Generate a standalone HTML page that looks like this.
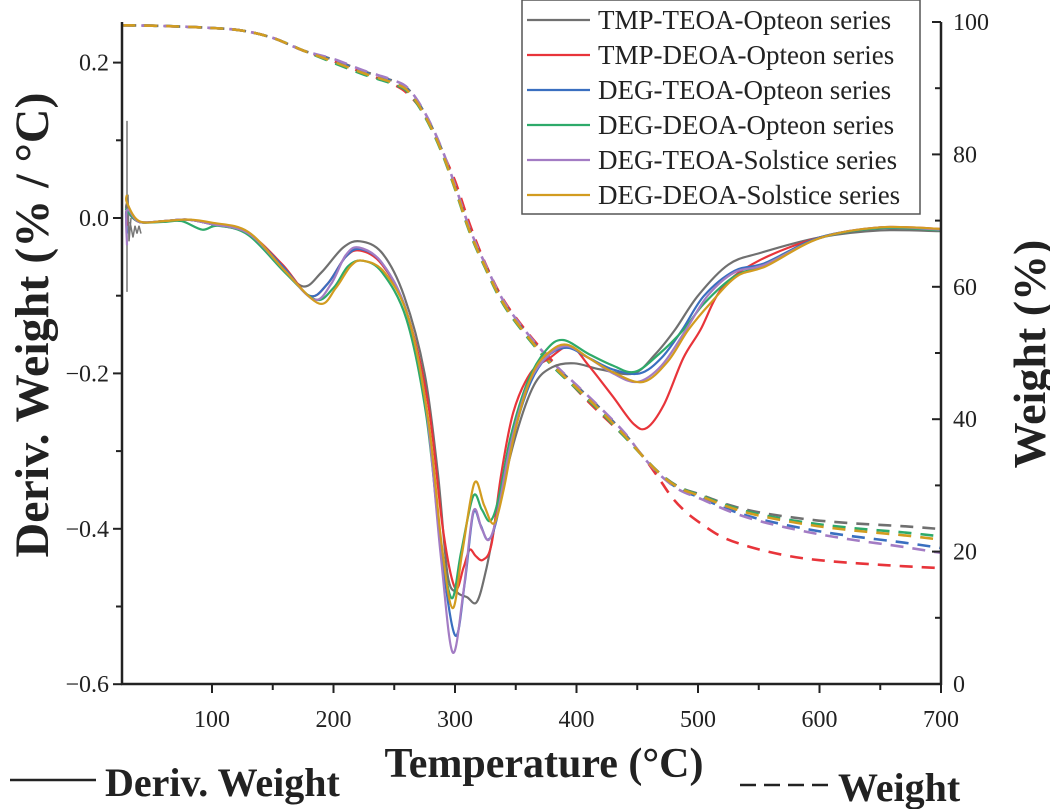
<!DOCTYPE html>
<html><head><meta charset="utf-8"><style>
html,body{margin:0;padding:0;background:#fff;}
svg{display:block;font-family:"Liberation Serif",serif;}
</style></head><body>
<svg id="s" width="1050" height="809" viewBox="0 0 1050 809" xmlns="http://www.w3.org/2000/svg">
<g id="curves"></g>
<g stroke="#222" stroke-width="2.5" fill="none">
<line x1="122" y1="22" x2="122" y2="685"/>
<line x1="121" y1="684" x2="942" y2="684"/>
<line x1="941" y1="22" x2="941" y2="685"/>
</g>
<g id="ticks" stroke="#222" stroke-width="2"></g>
<g id="labels" font-size="24" fill="#222"></g>
<text x="0" y="0" transform="translate(48,325) rotate(-90)" text-anchor="middle" font-size="48" font-weight="bold" fill="#222">Deriv. Weight (% / °C)</text>
<text x="0" y="0" transform="translate(1045,354) rotate(-90)" text-anchor="middle" font-size="46" font-weight="bold" fill="#222">Weight (%)</text>
<text x="544" y="777" text-anchor="middle" font-size="42" font-weight="bold" fill="#222">Temperature (°C)</text>
<line x1="10" y1="780" x2="96" y2="780" stroke="#222" stroke-width="2.5"/>
<text x="105" y="796" font-size="40" font-weight="bold" fill="#222">Deriv. Weight</text>
<line x1="740" y1="785" x2="828" y2="785" stroke="#222" stroke-width="2.5" stroke-dasharray="16,8"/>
<text x="838" y="801" font-size="40" font-weight="bold" fill="#222">Weight</text>
<rect x="522" y="0" width="398" height="214" fill="#fff" stroke="#555" stroke-width="1.5"/>
<g id="legend" font-size="27" fill="#222"></g>
</svg>
<script>
var NS="http://www.w3.org/2000/svg";
function X(t){return 212+(t-100)*1.215;}
function YL(v){return 218-v*777;}
function YR(w){return 684-w*6.62;}
function el(p,tag,a,txt){var e=document.createElementNS(NS,tag);for(var k in a)e.setAttribute(k,a[k]);if(txt)e.textContent=txt;p.appendChild(e);return e;}
function path(pts){var d="M"+pts[0][0].toFixed(1)+","+pts[0][1].toFixed(1);
for(var i=0;i<pts.length-1;i++){var p0=pts[Math.max(0,i-1)],p1=pts[i],p2=pts[i+1],p3=pts[Math.min(pts.length-1,i+2)];
var c1=[p1[0]+(p2[0]-p0[0])/6,p1[1]+(p2[1]-p0[1])/6],c2=[p2[0]-(p3[0]-p1[0])/6,p2[1]-(p3[1]-p1[1])/6];
d+="C"+c1[0].toFixed(1)+","+c1[1].toFixed(1)+" "+c2[0].toFixed(1)+","+c2[1].toFixed(1)+" "+p2[0].toFixed(1)+","+p2[1].toFixed(1);}return d;}
var C=["#707070","#e8343a","#3a6fc0","#2eaa6a","#a37cc4","#d29c20"];
var names=["TMP-TEOA-Opteon series","TMP-DEOA-Opteon series","DEG-TEOA-Opteon series","DEG-DEOA-Opteon series","DEG-TEOA-Solstice series","DEG-DEOA-Solstice series"];
var D=[
[[30,0.01],[40,-0.005],[60,-0.004],[80,-0.002],[100,-0.008],[130,-0.02],[155,-0.06],[175,-0.088],[190,-0.07],[208,-0.038],[222,-0.03],[240,-0.045],[258,-0.1],[275,-0.2],[286,-0.33],[294,-0.46],[302,-0.482],[310,-0.488],[318,-0.494],[326,-0.45],[336,-0.37],[350,-0.28],[365,-0.215],[380,-0.192],[398,-0.187],[420,-0.195],[447,-0.2],[465,-0.175],[481,-0.144],[500,-0.1],[525,-0.06],[551,-0.045],[600,-0.025],[650,-0.016],[700,-0.017]],
[[30,0.01],[40,-0.005],[60,-0.004],[80,-0.002],[100,-0.008],[130,-0.02],[158,-0.06],[180,-0.1],[195,-0.085],[210,-0.05],[222,-0.042],[240,-0.06],[260,-0.12],[278,-0.24],[290,-0.4],[300,-0.476],[307,-0.45],[312,-0.427],[317,-0.435],[323,-0.44],[330,-0.42],[338,-0.33],[348,-0.25],[362,-0.2],[378,-0.18],[395,-0.165],[410,-0.19],[430,-0.23],[447,-0.265],[458,-0.27],[472,-0.24],[488,-0.18],[502,-0.144],[520,-0.09],[550,-0.055],[600,-0.025],[650,-0.012],[700,-0.014]],
[[30,0.01],[40,-0.005],[60,-0.004],[80,-0.002],[100,-0.008],[130,-0.02],[158,-0.062],[180,-0.1],[195,-0.085],[210,-0.05],[222,-0.04],[240,-0.058],[260,-0.12],[276,-0.24],[288,-0.42],[300,-0.537],[308,-0.47],[315,-0.38],[321,-0.395],[327,-0.414],[334,-0.39],[345,-0.3],[360,-0.22],[375,-0.18],[392,-0.167],[410,-0.18],[430,-0.195],[452,-0.2],[470,-0.18],[487,-0.144],[505,-0.1],[530,-0.068],[555,-0.058],[600,-0.025],[650,-0.013],[700,-0.015]],
[[30,0.01],[40,-0.005],[60,-0.005],[75,-0.004],[92,-0.015],[105,-0.01],[130,-0.022],[160,-0.07],[185,-0.105],[200,-0.09],[212,-0.062],[224,-0.055],[240,-0.07],[260,-0.13],[276,-0.25],[287,-0.4],[297,-0.489],[305,-0.43],[315,-0.358],[322,-0.375],[329,-0.39],[336,-0.36],[346,-0.28],[360,-0.21],[375,-0.17],[389,-0.157],[410,-0.175],[430,-0.19],[448,-0.198],[468,-0.175],[488,-0.144],[505,-0.11],[530,-0.075],[555,-0.06],[600,-0.026],[650,-0.013],[700,-0.016]],
[[30,0.01],[40,-0.005],[60,-0.004],[80,-0.002],[100,-0.008],[130,-0.02],[160,-0.068],[184,-0.105],[198,-0.085],[210,-0.048],[221,-0.038],[240,-0.058],[260,-0.12],[276,-0.24],[288,-0.43],[298,-0.559],[307,-0.48],[315,-0.378],[322,-0.4],[328,-0.414],[335,-0.38],[346,-0.29],[360,-0.215],[376,-0.178],[392,-0.165],[410,-0.18],[430,-0.2],[450,-0.211],[470,-0.19],[490,-0.144],[508,-0.1],[530,-0.07],[555,-0.06],[600,-0.026],[650,-0.012],[700,-0.015]],
[[30,0.02],[40,-0.004],[60,-0.004],[80,-0.002],[100,-0.006],[130,-0.018],[160,-0.068],[188,-0.11],[202,-0.09],[214,-0.062],[224,-0.055],[242,-0.07],[262,-0.13],[278,-0.26],[289,-0.42],[298,-0.502],[306,-0.43],[316,-0.341],[324,-0.37],[332,-0.393],[340,-0.35],[350,-0.27],[364,-0.2],[378,-0.172],[392,-0.163],[410,-0.18],[432,-0.2],[455,-0.211],[475,-0.185],[492,-0.144],[510,-0.11],[532,-0.075],[556,-0.062],[600,-0.026],[650,-0.012],[700,-0.014]]
];
var Wb=[[27,99.5],[60,99.4],[100,99.1],[125,98.7],[150,97.6],[175,95.7],[201,94],[225,92.3],[250,90.8],[262,89.5],[275,86],[288,81],[300,75],[312,68.5],[325,63],[340,57.5],[360,52.5],[380,48.3],[400,44.8],[420,41.3],[440,37.5],[455,34.3],[470,31.5],[485,29.5],[502,28.3],[525,26.6],[551,25.2],[590,23.8],[625,22.9],[670,22],[700,21.3]];
var curves=document.getElementById("curves");
for(var i=0;i<6;i++){
 var off=[0.6,0,-0.3,0.4,-0.6,0.2][i];
 var jit=[0.4,-0.3,0.2,-0.4,0.6,-0.1][i];
 var pts=Wb.map(function(p){var w=p[1];if(p[0]<450&&p[0]>180)w+=jit*0.6;if(p[0]>450)w+=off*(p[0]-450)/100;if(i==0&&p[0]>520)w+=0.6*(p[0]-520)/180;return [X(p[0]),YR(w)];});
 if(i==1){pts=[[27,99.5],[60,99.4],[100,99.1],[125,98.7],[150,97.6],[175,95.7],[201,94],[225,92.3],[250,90.5],[262,89],[275,86],[288,81],[300,76],[312,69.5],[325,63.5],[340,58],[360,53],[380,48.8],[400,44.5],[420,40.8],[440,37.3],[455,34.3],[468,31],[479,28.1],[490,26],[502,24.3],[520,22.2],[543,20.7],[570,19.5],[600,18.7],[650,18],[700,17.5]].map(function(p){return [X(p[0]),YR(p[1])];});}
 el(curves,"path",{d:path(pts),fill:"none",stroke:C[i],"stroke-width":2.6,"stroke-dasharray":"13,9","stroke-dashoffset":[0,3,1,2,4,1][i]});
}
el(curves,"path",{d:"M127,"+YL(0.125)+"L127,"+YL(-0.095)+"M128,"+YL(0.03)+"L129,"+YL(-0.03)+"L131,"+YL(0)+" M130,"+YL(-0.005)+"L133,"+YL(-0.025)+"L135,"+YL(-0.01)+"L137,"+YL(-0.02)+"L139,"+YL(-0.01)+"L141,"+YL(-0.02),fill:"none",stroke:"#777","stroke-width":1.5});
for(var i=0;i<6;i++){
 var pts=D[i].map(function(p){return [X(p[0]),YL(p[1])];});
 pts.unshift([127,YL([0.02,-0.01,-0.02,0.01,-0.035,0.03][i])]);
 el(curves,"path",{d:path(pts),fill:"none",stroke:C[i],"stroke-width":2.2});
}
var tk=document.getElementById("ticks"),lb=document.getElementById("labels");
for(var t=100;t<=700;t+=50){var x=X(t);el(tk,"line",{x1:x,y1:684,x2:x,y2:t%100==0?693:690});
 if(t%100==0)el(lb,"text",{x:x,y:727,"text-anchor":"middle"},String(t));}
for(var k=-6;k<=2;k++){var v=k/10,y=YL(v);el(tk,"line",{x1:k%2==0?113:116,y1:y,x2:122,y2:y});
 if(k%2==0)el(lb,"text",{x:109,y:y+8,"text-anchor":"end"},k==0?"0.0":(v<0?"\u2212":"")+Math.abs(v).toFixed(1));}
for(var w=0;w<=100;w+=10){var y=YR(w);el(tk,"line",{x1:w%20==0?932:935,y1:y,x2:941,y2:y});
 if(w%20==0)el(lb,"text",{x:953,y:y+8},String(w));}
var lg=document.getElementById("legend");
for(var i=0;i<6;i++){var y=20+i*35;el(lg,"line",{x1:527,y1:y,x2:590,y2:y,stroke:C[i],"stroke-width":2.2});
 el(lg,"text",{x:598,y:y+9},names[i]);}
</script>
</body></html>
